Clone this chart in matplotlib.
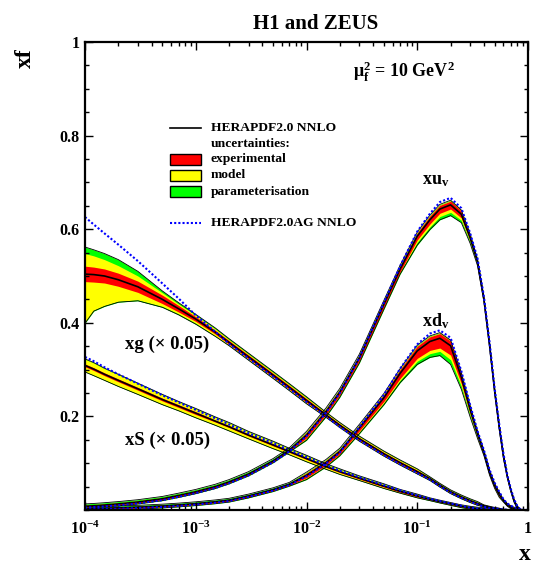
import numpy as np
import matplotlib
matplotlib.use("Agg")
import matplotlib.pyplot as plt
from matplotlib.patches import Rectangle
from matplotlib.lines import Line2D
from matplotlib.ticker import LogLocator, MultipleLocator, NullFormatter

plt.rcParams.update({
    "font.family": "Liberation Serif",
    "font.weight": "bold",
    "mathtext.fontset": "custom",
    "mathtext.rm": "Liberation Serif:bold",
    "mathtext.it": "Liberation Serif:bold",
    "mathtext.bf": "Liberation Serif:bold",
})

# x grid shared by all PDFs
X = [1e-4, 1.2e-4, 1.5e-4, 2e-4, 3e-4, 5e-4, 7e-4, 1e-3, 1.5e-3, 2e-3,
     3e-3, 5e-3, 7e-3, 1e-2, 1.5e-2, 2e-2, 3e-2, 5e-2, 7e-2, 0.1,
     0.13, 0.16, 0.2, 0.25, 0.3, 0.35, 0.4, 0.45, 0.5, 0.55,
     0.6, 0.65, 0.7, 0.75, 0.8, 0.85, 0.9, 1.0]

# xu_v : central value, cumulative band half-widths (exp, exp+model, total), AG shift
UV_CEN = [0.008, 0.009, 0.0106, 0.013, 0.017, 0.024, 0.031, 0.039, 0.050, 0.060,
          0.077, 0.105, 0.128, 0.160, 0.210, 0.252, 0.325, 0.440, 0.515, 0.585,
          0.620, 0.643, 0.652, 0.632, 0.582, 0.530, 0.450, 0.352, 0.254, 0.177,
          0.115, 0.072, 0.042, 0.019, 0.006, 0.0015, 0.0, 0.0]
UV_EXP_UP = [0.002] * 13 + [0.006] * 6 + [0.007, 0.008, 0.008, 0.008, 0.007, 0.006, 0.004] + [0.003] * 5 + [0.002] * 4 + [0.0] * 3
UV_EXP_DN = [0.002] * 13 + [0.006] * 6 + [0.008, 0.009, 0.009, 0.009, 0.008, 0.006, 0.004] + [0.003] * 5 + [0.002] * 4 + [0.0] * 3
UV_MOD_UP = [0.003] * 13 + [0.007] * 6 + [0.008, 0.009, 0.009, 0.009, 0.008, 0.007, 0.005] + [0.004] * 5 + [0.002] * 4 + [0.0] * 3
UV_MOD_DN = [0.003] * 13 + [0.008] * 6 + [0.013, 0.015, 0.016, 0.016, 0.013, 0.009, 0.006] + [0.004] * 5 + [0.002] * 4 + [0.0] * 3
UV_TOT_UP = [0.005] * 13 + [0.008] * 6 + [0.009, 0.010, 0.010, 0.010, 0.009, 0.008, 0.006] + [0.005] * 5 + [0.003] * 4 + [0.0] * 3
UV_TOT_DN = [0.004] * 13 + [0.011] * 6 + [0.019, 0.021, 0.023, 0.023, 0.018, 0.012, 0.008] + [0.005] * 5 + [0.003] * 4 + [0.0] * 3
UV_AG = [-0.003] * 13 + [-0.002] * 3 + [0.0, 0.003, 0.006, 0.010, 0.013, 0.015, 0.015, 0.013, 0.010, 0.008] + [0.006] * 5 + [0.003] * 4 + [0.0] * 3

# xd_v
DV_CEN = [0.003, 0.0033, 0.0038, 0.0046, 0.006, 0.0085, 0.0107, 0.0135, 0.0175, 0.021,
          0.030, 0.0435, 0.055, 0.074, 0.101, 0.125, 0.175, 0.240, 0.292, 0.340,
          0.360, 0.367, 0.351, 0.284, 0.215, 0.163, 0.122, 0.080, 0.052, 0.033,
          0.020, 0.011, 0.006, 0.003, 0.001, 0.0, 0.0, 0.0]
DV_EXP_UP = [0.002] * 13 + [0.005] * 3 + [0.006, 0.007, 0.008, 0.010, 0.010, 0.010, 0.010, 0.008, 0.006] + [0.004] * 5 + [0.002] * 5 + [0.0] * 3
DV_EXP_DN = [0.002] * 13 + [0.005] * 3 + [0.006, 0.008, 0.011, 0.016, 0.019, 0.021, 0.020, 0.014, 0.009, 0.006] + [0.004] * 4 + [0.002] * 5 + [0.0] * 3
DV_MOD_UP = [0.002] * 13 + [0.006] * 3 + [0.007, 0.008, 0.009, 0.011, 0.011, 0.011, 0.011, 0.009, 0.007] + [0.005] * 5 + [0.002] * 5 + [0.0] * 3
DV_MOD_DN = [0.003] * 13 + [0.007] * 3 + [0.009, 0.011, 0.015, 0.022, 0.026, 0.028, 0.030, 0.020, 0.012, 0.008] + [0.005] * 4 + [0.002] * 5 + [0.0] * 3
DV_TOT_UP = [0.004] * 13 + [0.007] * 3 + [0.008, 0.009, 0.010, 0.012, 0.012, 0.012, 0.012, 0.010, 0.008] + [0.005] * 5 + [0.003] * 5 + [0.0] * 3
DV_TOT_DN = [0.004] * 13 + [0.009] * 3 + [0.012, 0.015, 0.020, 0.029, 0.034, 0.037, 0.040, 0.026, 0.016, 0.010] + [0.006] * 4 + [0.003] * 5 + [0.0] * 3
DV_AG = [-0.002] * 16 + [0.002, 0.006, 0.010, 0.014, 0.017, 0.017, 0.017, 0.013, 0.010] + [0.006] * 5 + [0.003] * 5 + [0.0] * 3

# xg x 0.05
G_CEN = [0.504, 0.503, 0.500, 0.492, 0.477, 0.450, 0.430, 0.408, 0.380, 0.358,
         0.327, 0.288, 0.262, 0.234, 0.203, 0.181, 0.152, 0.120, 0.101, 0.082,
         0.067, 0.053, 0.039, 0.028, 0.020, 0.014, 0.009, 0.006, 0.0035, 0.002,
         0.001, 0.0005, 0.0002, 0.0001, 0.0, 0.0, 0.0, 0.0]
G_EXP_UP = [0.017, 0.016, 0.015, 0.014, 0.012, 0.009, 0.007, 0.005] + [0.004] * 6 + [0.003] * 6 + [0.002] * 6 + [0.001] * 4 + [0.0] * 8
G_EXP_DN = [0.016, 0.016, 0.015, 0.014, 0.012, 0.009, 0.007, 0.005] + [0.004] * 6 + [0.003] * 6 + [0.002] * 6 + [0.001] * 4 + [0.0] * 8
G_MOD_UP = [0.044, 0.040, 0.035, 0.030, 0.023, 0.014, 0.010, 0.008, 0.007] + [0.006] * 5 + [0.005] * 6 + [0.003] * 6 + [0.002] * 4 + [0.0] * 8
G_MOD_DN = [0.103, 0.076, 0.063, 0.046, 0.028, 0.015, 0.011, 0.009, 0.008] + [0.006] * 5 + [0.004] * 6 + [0.003] * 6 + [0.002] * 4 + [0.0] * 8
G_TOT_UP = [0.058, 0.053, 0.048, 0.043, 0.033, 0.018, 0.013, 0.010, 0.009] + [0.008] * 5 + [0.006] * 6 + [0.004] * 6 + [0.002] * 4 + [0.0] * 8
G_TOT_DN = [0.105, 0.078, 0.065, 0.048, 0.030, 0.017, 0.013, 0.011, 0.009] + [0.007] * 5 + [0.005] * 6 + [0.004] * 6 + [0.002] * 4 + [0.0] * 8
G_AG = [0.122, 0.107, 0.091, 0.075, 0.055, 0.034, 0.022, 0.008, 0.001] + [-0.003] * 11 + [-0.002] * 8 + [0.0] * 10

# xS x 0.05 (symmetric bands)
S_CEN = [0.309, 0.301, 0.290, 0.277, 0.259, 0.236, 0.222, 0.207, 0.190, 0.178,
         0.160, 0.139, 0.125, 0.110, 0.093, 0.082, 0.068, 0.051, 0.040, 0.030,
         0.023, 0.018, 0.013, 0.008, 0.005, 0.003, 0.002, 0.001, 0.0005, 0.0,
         0.0, 0.0, 0.0, 0.0, 0.0, 0.0, 0.0, 0.0]
S_EXP = [0.003] * 8 + [0.002] * 12 + [0.001] * 8 + [0.0] * 10
S_MOD = [0.013, 0.013, 0.012, 0.012, 0.011, 0.010, 0.009, 0.009, 0.008, 0.008,
         0.007, 0.007, 0.006, 0.006, 0.005, 0.005, 0.004, 0.004, 0.003, 0.003] + [0.002] * 8 + [0.0] * 10
S_TOT = [0.014, 0.014, 0.013, 0.013, 0.012, 0.011, 0.010, 0.010, 0.009, 0.009,
         0.008, 0.008, 0.007, 0.007, 0.006, 0.006, 0.005, 0.005, 0.004, 0.004] + [0.003] * 8 + [0.0] * 10
S_AG = [0.018, 0.017, 0.015, 0.013, 0.011, 0.009, 0.008, 0.007, 0.006, 0.005,
        0.004, 0.004, 0.003, 0.003, 0.003, 0.002, 0.002, 0.002, 0.002, 0.001] + [0.001] * 4 + [0.0] * 14

X_TICKS = [1e-4, 1e-3, 1e-2, 1e-1, 1]
X_TICK_LABELS = [r"10$^{-4}$", r"10$^{-3}$", r"10$^{-2}$", r"10$^{-1}$", "1"]
Y_TICKS = [0.2, 0.4, 0.6, 0.8, 1.0]
Y_TICK_LABELS = ["0.2", "0.4", "0.6", "0.8", "1"]

RED, YELLOW, GREEN, BLUE = "#ff0000", "#ffff00", "#00ff00", "#0000ff"
AG_STYLE = (0, (1, 1))


def draw_pdf(ax, cen, exp_up, exp_dn, mod_up, mod_dn, tot_up, tot_dn, ag):
    x = np.array(X)
    c = np.array(cen)
    ax.fill_between(x, c - np.array(tot_dn), c + np.array(tot_up), color=GREEN, lw=0)
    ax.fill_between(x, c - np.array(mod_dn), c + np.array(mod_up), color=YELLOW, lw=0)
    ax.fill_between(x, c - np.array(exp_dn), c + np.array(exp_up), color=RED, lw=0)
    ax.plot(x, c + np.array(tot_up), color="black", lw=0.6)
    ax.plot(x, c - np.array(tot_dn), color="black", lw=0.6)
    ax.plot(x, c, color="black", lw=1.2)
    ax.plot(x, c + np.array(ag), color=BLUE, ls=AG_STYLE, lw=1.5)


fig = plt.figure(figsize=(5.36, 5.66), dpi=100)
ax = fig.add_axes([85 / 536, 56 / 566, 443 / 536, 468 / 566])
ax.set_xscale("log")

draw_pdf(ax, S_CEN, S_EXP, S_EXP, S_MOD, S_MOD, S_TOT, S_TOT, S_AG)
draw_pdf(ax, G_CEN, G_EXP_UP, G_EXP_DN, G_MOD_UP, G_MOD_DN, G_TOT_UP, G_TOT_DN, G_AG)
draw_pdf(ax, DV_CEN, DV_EXP_UP, DV_EXP_DN, DV_MOD_UP, DV_MOD_DN, DV_TOT_UP, DV_TOT_DN, DV_AG)
draw_pdf(ax, UV_CEN, UV_EXP_UP, UV_EXP_DN, UV_MOD_UP, UV_MOD_DN, UV_TOT_UP, UV_TOT_DN, UV_AG)

ax.set_xlim(1e-4, 1)
ax.set_ylim(0, 1)
ax.set_xticks(X_TICKS)
ax.set_xticklabels(X_TICK_LABELS)
ax.xaxis.set_minor_locator(LogLocator(base=10, subs=np.arange(2, 10), numticks=20))
ax.xaxis.set_minor_formatter(NullFormatter())
ax.set_yticks(Y_TICKS)
ax.set_yticklabels(Y_TICK_LABELS)
ax.yaxis.set_minor_locator(MultipleLocator(0.05))
ax.tick_params(which="both", direction="in", top=True, right=True, width=1.0, labelsize=11.5)
ax.tick_params(which="major", length=5.5)
ax.tick_params(which="minor", length=3)
ax.tick_params(axis="x", pad=8)
ax.tick_params(axis="y", pad=4)
for spine in ax.spines.values():
    spine.set_linewidth(1.6)

# axis titles and headline
fig.text(316 / 536, 1 - 24 / 566, "H1 and ZEUS", ha="center", va="center", fontsize=15)
fig.text(25.5 / 536, 1 - 58 / 566, "xf", ha="center", va="center", rotation=90, fontsize=17)
fig.text(525 / 536, 1 - 555 / 566, "x", ha="center", va="center", fontsize=17)
ax.text(0.605, 0.925, r"μ$_{\mathrm{f}}^{2}$ = 10 GeV$^{2}$", transform=ax.transAxes,
        ha="left", va="baseline", fontsize=13)

# curve labels
ax.text(0.110, 0.695, r"xu$_{\mathrm{v}}$", ha="left", va="baseline", fontsize=13)
ax.text(0.110, 0.392, r"xd$_{\mathrm{v}}$", ha="left", va="baseline", fontsize=13)
ax.text(2.28e-4, 0.344, "xg (× 0.05)", ha="left", va="baseline", fontsize=13.5)
ax.text(2.28e-4, 0.139, "xS (× 0.05)", ha="left", va="baseline", fontsize=13.5)

# legend drawn by hand
tr = ax.transAxes
lx0, lx1, tx = 0.192, 0.262, 0.284
leg_fs = 9.7
ax.add_line(Line2D([lx0, lx1], [0.817, 0.817], color="black", lw=1.2, transform=tr))
ax.text(tx, 0.817, "HERAPDF2.0 NNLO", transform=tr, ha="left", va="center", fontsize=leg_fs)
ax.text(tx, 0.783, "uncertainties:", transform=tr, ha="left", va="center", fontsize=leg_fs)
for yc, col, lab in [(0.749, RED, "experimental"), (0.715, YELLOW, "model"),
                     (0.680, GREEN, "parameterisation")]:
    ax.add_patch(Rectangle((lx0, yc - 0.0115), lx1 - lx0, 0.023, facecolor=col,
                           edgecolor="black", lw=1.0, transform=tr))
    ax.text(tx, yc, lab, transform=tr, ha="left", va="center", fontsize=leg_fs)
ax.add_line(Line2D([lx0, lx1], [0.614, 0.614], color=BLUE, ls=AG_STYLE, lw=1.5, transform=tr))
ax.text(tx, 0.614, "HERAPDF2.0AG NNLO", transform=tr, ha="left", va="center", fontsize=leg_fs)

fig.savefig("out.png", dpi=100)
